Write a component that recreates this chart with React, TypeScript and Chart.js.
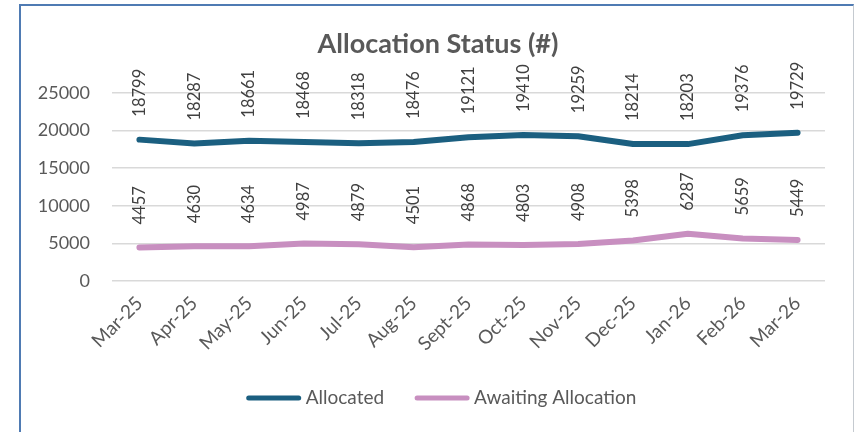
import React, { useEffect, useRef } from "react";
import { Chart, registerables } from "chart.js";

Chart.register(...registerables);

const categories = ["Mar-25", "Apr-25", "May-25", "Jun-25", "Jul-25", "Aug-25", "Sept-25", "Oct-25", "Nov-25", "Dec-25", "Jan-26", "Feb-26", "Mar-26"];
const allocated = [18799, 18287, 18661, 18468, 18318, 18476, 19121, 19410, 19259, 18214, 18203, 19376, 19729];
const awaiting = [4457, 4630, 4634, 4987, 4879, 4501, 4868, 4803, 4908, 5398, 6287, 5659, 5449];
const yTickValues = [0, 5000, 10000, 15000, 20000, 25000];
const seriesNames = ["Allocated", "Awaiting Allocation"];
const seriesColors = ["#1B5F80", "#C88FC0"];
const titleText = "Allocation Status (#)";

const FONT = "Lato, 'Open Sans', sans-serif";

const titlePlugin = {
  id: "customTitle",
  afterDraw(chart: any) {
    const ctx = chart.ctx;
    ctx.save();
    ctx.font = `bold 27px ${FONT}`;
    ctx.fillStyle = "#595959";
    ctx.textAlign = "center";
    ctx.textBaseline = "middle";
    ctx.fillText(titleText, 438, 44);
    ctx.restore();
  },
};

const dataLabelsPlugin = {
  id: "dataLabels",
  afterDatasetsDraw(chart: any) {
    const ctx = chart.ctx;
    ctx.save();
    ctx.font = `16.5px ${FONT}`;
    ctx.fillStyle = "#404040";
    chart.data.datasets.forEach((ds: any, i: number) => {
      const meta = chart.getDatasetMeta(i);
      meta.data.forEach((pt: any, j: number) => {
        ctx.save();
        ctx.translate(pt.x, pt.y - 23);
        ctx.rotate(-Math.PI / 2);
        ctx.textAlign = "left";
        ctx.textBaseline = "middle";
        ctx.fillText(String(ds.data[j]), 0, 0);
        ctx.restore();
      });
    });
    ctx.restore();
  },
};

const legendPlugin = {
  id: "customLegend",
  afterDraw(chart: any) {
    const ctx = chart.ctx;
    ctx.save();
    ctx.font = `19px ${FONT}`;
    const sample = 56;
    const gap = 4;
    const itemGap = 30;
    const items = chart.data.datasets.map((ds: any) => ({
      label: ds.label,
      color: ds.borderColor,
      w: sample + gap + ctx.measureText(ds.label).width,
    }));
    const total = items.reduce((s: number, it: any) => s + it.w, 0) + itemGap * (items.length - 1);
    let x = 441 - total / 2;
    const y = 398;
    items.forEach((it: any) => {
      ctx.beginPath();
      ctx.strokeStyle = it.color;
      ctx.lineWidth = 5;
      ctx.lineCap = "round";
      ctx.moveTo(x + 3, y);
      ctx.lineTo(x + sample - 3, y);
      ctx.stroke();
      ctx.fillStyle = "#595959";
      ctx.textAlign = "left";
      ctx.textBaseline = "middle";
      ctx.fillText(it.label, x + sample + gap, y);
      x += it.w + itemGap;
    });
    ctx.restore();
  },
};

export default function App() {
  const ref = useRef<HTMLCanvasElement | null>(null);

  useEffect(() => {
    if (!ref.current) return;
    const chart = new Chart(ref.current, {
      type: "line",
      data: {
        labels: categories,
        datasets: [
          {
            label: seriesNames[0],
            data: allocated,
            borderColor: seriesColors[0],
            backgroundColor: seriesColors[0],
            borderWidth: 6,
            pointRadius: 0,
            tension: 0,
            borderCapStyle: "round",
            borderJoinStyle: "round",
          },
          {
            label: seriesNames[1],
            data: awaiting,
            borderColor: seriesColors[1],
            backgroundColor: seriesColors[1],
            borderWidth: 6,
            pointRadius: 0,
            tension: 0,
            borderCapStyle: "round",
            borderJoinStyle: "round",
          },
        ],
      },
      options: {
        animation: false,
        responsive: false,
        devicePixelRatio: 1,
        layout: { padding: { left: 22, right: 29, top: 93, bottom: 60 } },
        plugins: {
          legend: { display: false },
          tooltip: { enabled: false },
          title: { display: false },
        },
        scales: {
          x: {
            offset: true,
            grid: { display: false },
            border: { display: false },
            ticks: {
              color: "#595959",
              font: { family: FONT, size: 19 },
              maxRotation: 45,
              minRotation: 45,
              padding: 3,
            },
            afterFit(scale: any) {
              scale.height = 432 - 60 - 281;
            },
          },
          y: {
            min: 0,
            max: 25000,
            afterBuildTicks(scale: any) {
              scale.ticks = yTickValues.map((v) => ({ value: v }));
            },
            grid: { color: "#D9D9D9", lineWidth: 1.5, drawTicks: false },
            border: { display: false },
            ticks: {
              color: "#595959",
              font: { family: FONT, size: 18 },
              padding: 22,
              callback: (v: any) => String(v),
            },
            afterFit(scale: any) {
              scale.width = 112 - 22;
            },
          },
        },
      },
      plugins: [dataLabelsPlugin, legendPlugin, titlePlugin],
    });
    return () => chart.destroy();
  }, []);

  return (
    <div style={{ position: "fixed", left: 0, top: 0, width: 854, height: 432, background: "#fff", overflow: "hidden" }}>
      <canvas ref={ref} width={854} height={432} style={{ display: "block", position: "absolute", left: 0, top: 0 }} />
      <div
        style={{
          position: "absolute",
          left: 19,
          top: 4,
          width: 832,
          height: 460,
          borderTop: "2px solid #4F7BB3",
          borderLeft: "2.5px solid #4F7BB3",
          borderRight: "1.5px solid #C5CAD0",
          pointerEvents: "none",
        }}
      />
    </div>
  );
}
